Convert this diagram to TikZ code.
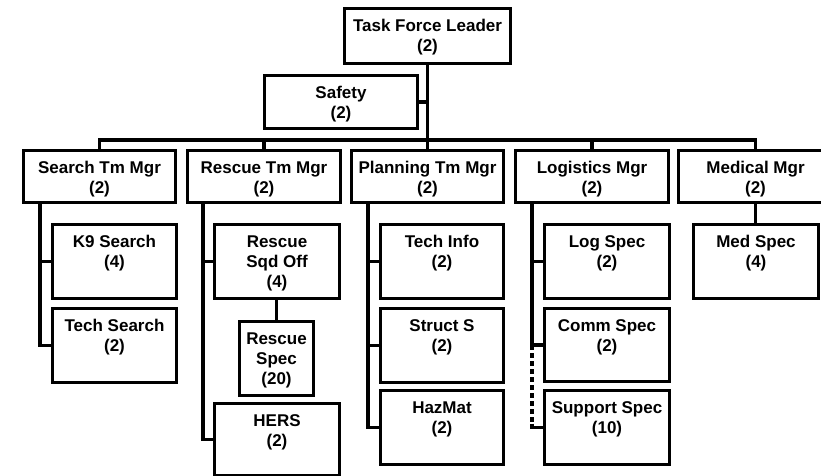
\documentclass[tikz,border=0pt]{standalone}
\usepackage{fontspec}
\setmainfont{Liberation Sans}
\tikzset{
  bx/.style={draw, line width=3pt, inner sep=0pt, fill=white, anchor=north west,
    font=\bfseries\fontsize{17}{20}\selectfont},
  conn/.style={draw, line width=3.2pt},
  dashconn/.style={draw, line width=3.2pt, dash pattern=on 5pt off 3pt}
}
% name, x1, y1, x2, y2, text
\newcommand\orgbox[6]{%
  \node[bx] (#1) at (#2,#3)
    {\parbox[c][\dimexpr #5pt-#3pt\relax][t]{\dimexpr #4pt-#2pt\relax}%
      {\centering\rule{0pt}{22.5pt}#6\par}};}
\begin{document}
\begin{tikzpicture}[x=1pt,y=-1pt]
\clip (0,0) rectangle (821,475);
\fill[white] (0,0) rectangle (821,475);
\coordinate (bus) at (0,140);
% level 0/1
\orgbox{tfl}{343}{7}{509}{62}{Task Force Leader\\(2)}
\orgbox{safety}{263}{74}{416}{127}{Safety\\(2)}
% level 2
\orgbox{search}{22}{149}{174}{201}{Search Tm Mgr\\(2)}
\orgbox{rescue}{186}{149}{339}{201}{Rescue Tm Mgr\\(2)}
\orgbox{planning}{350}{149}{502}{201}{Planning Tm Mgr\\(2)}
\orgbox{logistics}{514}{149}{667}{201}{Logistics Mgr\\(2)}
\orgbox{medical}{677}{149}{831}{201}{Medical Mgr\\(2)}
% level 3
\orgbox{k9}{51}{223}{175}{297}{K9 Search\\(4)}
\orgbox{techsearch}{51}{307}{175}{381}{Tech Search\\(2)}
\orgbox{sqdoff}{213}{223}{338}{297}{Rescue\\Sqd Off\\(4)}
\orgbox{rescuespec}{238}{320}{312}{394}{Rescue\\Spec\\(20)}
\orgbox{hers}{213}{402}{338}{474}{HERS\\(2)}
\orgbox{techinfo}{379}{223}{502}{297}{Tech Info\\(2)}
\orgbox{structs}{379}{307}{502}{381}{Struct S\\(2)}
\orgbox{hazmat}{379}{389}{502}{463}{HazMat\\(2)}
\orgbox{logspec}{543}{223}{668}{297}{Log Spec\\(2)}
\orgbox{commspec}{543}{307}{668}{380}{Comm Spec\\(2)}
\orgbox{supportspec}{543}{389}{668}{463}{Support Spec\\(10)}
\orgbox{medspec}{692}{223}{817}{297}{Med Spec\\(4)}
% trunk and bus
\draw[conn] (tfl.south) -- (tfl.south |- bus);
\draw[conn] (safety.east) -- (safety.east -| tfl.south);
\draw[conn] (search.north) -- (search.north |- bus) -- (medical.north |- bus) -- (medical.north);
\foreach \n in {rescue,planning,logistics}
  \draw[conn] (\n.north) -- (\n.north |- bus);
% search rail
\coordinate (sr) at ([xshift=18pt]search.south west);
\draw[conn] (sr) |- (techsearch.west);
\draw[conn] (sr |- k9.west) -- (k9.west);
% rescue rail
\coordinate (rr) at ([xshift=17pt]rescue.south west);
\draw[conn] (rr) |- (hers.west);
\draw[conn] (rr |- sqdoff.west) -- (sqdoff.west);
\draw[conn] (rescuespec.north |- sqdoff.south) -- (rescuespec.north);
% planning rail
\coordinate (pr) at ([xshift=18pt]planning.south west);
\draw[conn] (pr) |- (hazmat.west);
\draw[conn] (pr |- techinfo.west) -- (techinfo.west);
\draw[conn] (pr |- structs.west) -- (structs.west);
% logistics rail
\coordinate (lr) at ([xshift=18pt]logistics.south west);
\draw[conn] (lr) -- (lr |- commspec.west) -- (commspec.west);
\draw[conn] (lr |- logspec.west) -- (logspec.west);
\draw[dashconn] (lr |- commspec.west) -- (lr |- supportspec.west);
\draw[conn] ([yshift=4pt]lr |- supportspec.west) -- (lr |- supportspec.west) -- (supportspec.west);
% medical
\draw[conn] (medical.south) -- (medical.south |- medspec.north);
\end{tikzpicture}
\end{document}
